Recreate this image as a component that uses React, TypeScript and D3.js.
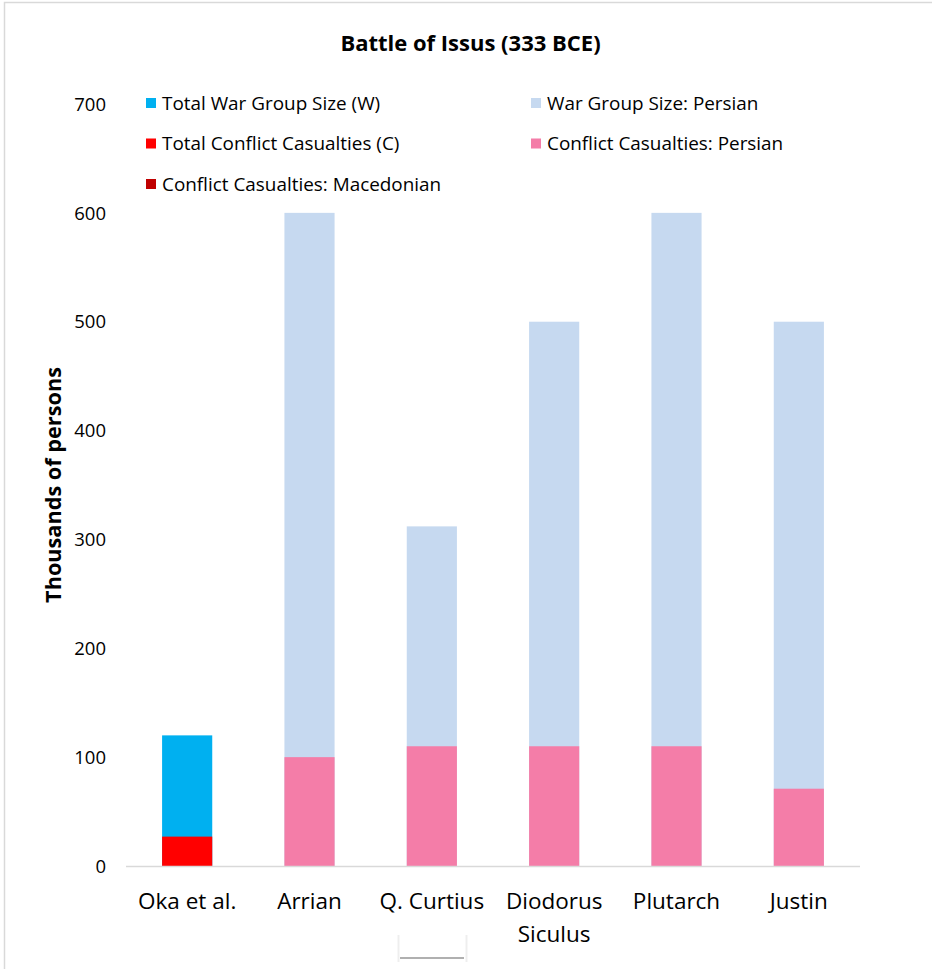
import React from "react";
import * as d3 from "d3";

const categories = ["Oka et al.", "Arrian", "Q. Curtius", "Diodorus Siculus", "Plutarch", "Justin"];
const totalWarGroup: (number | null)[] = [120, null, null, null, null, null];
const totalCasualties: (number | null)[] = [27, null, null, null, null, null];
const macedonianCasualties: (number | null)[] = [null, null, null, null, null, null];
const persianWarGroup: (number | null)[] = [null, 600, 312, 500, 600, 500];
const persianCasualties: (number | null)[] = [null, 100, 110, 110, 110, 71];
const yTicks = [0, 100, 200, 300, 400, 500, 600, 700];

const series = [
  { name: "Total War Group Size (W)", values: totalWarGroup, color: "#00B0F0" },
  { name: "War Group Size: Persian", values: persianWarGroup, color: "#C6D9F0" },
  { name: "Total Conflict Casualties (C)", values: totalCasualties, color: "#FF0000" },
  { name: "Conflict Casualties: Persian", values: persianCasualties, color: "#F47DA8" },
  { name: "Conflict Casualties: Macedonian", values: macedonianCasualties, color: "#C00000" },
];

const legendOrder = [
  { s: 0, col: 0, row: 0 },
  { s: 1, col: 1, row: 0 },
  { s: 2, col: 0, row: 1 },
  { s: 3, col: 1, row: 1 },
  { s: 4, col: 0, row: 2 },
];

export default function App() {
  const W = 932, H = 969;
  const left = 126, right = 860, top = 104, bottom = 866;
  const x = d3.scaleBand<string>().domain(categories).range([left, right]).paddingInner(0.59).paddingOuter(0.295);
  const y = d3.scaleLinear().domain([0, 700]).range([bottom, top]);
  const font = "'Open Sans', 'Noto Sans', sans-serif";

  return (
    <svg width={W} height={H} style={{ position: "absolute", left: 0, top: 0, background: "#fff" }}>
      <rect x={0} y={0} width={W} height={H} fill="#fff" />
      <path d="M4.5,969 L4.5,2.5 L932,2.5" fill="none" stroke="#D9D9D9" strokeWidth={1.5} />
      <text x={470.5} y={51} textAnchor="middle" fontFamily={font} fontWeight="bold" fontSize={22} fill="#000">
        Battle of Issus (333 BCE)
      </text>
      {yTicks.map((t) => (
        <text key={t} x={106} y={y(t)} dy="0.36em" textAnchor="end" fontFamily={font} fontSize={18.5} fill="#000">
          {t}
        </text>
      ))}
      <text
        transform={`translate(61,485) rotate(-90)`}
        textAnchor="middle"
        fontFamily={font}
        fontWeight="bold"
        fontSize={21.7}
        fill="#000"
      >
        Thousands of persons
      </text>
      {series.map((s, si) => (
        <g key={si}>
          {s.values.map((v, i) =>
            v == null ? null : (
              <rect
                key={i}
                x={x(categories[i])!}
                y={y(v)}
                width={x.bandwidth()}
                height={y(0) - y(v)}
                fill={s.color}
              />
            )
          )}
        </g>
      ))}
      <line x1={left} x2={right} y1={bottom + 0.5} y2={bottom + 0.5} stroke="#D9D9D9" strokeWidth={1.5} />
      {categories.map((c) => {
        const words = c === "Diodorus Siculus" ? ["Diodorus", "Siculus"] : [c];
        return (
          <text key={c} x={x(c)! + x.bandwidth() / 2} y={909} textAnchor="middle" fontFamily={font} fontSize={22.5} fill="#000">
            {words.map((w, k) => (
              <tspan key={k} x={x(c)! + x.bandwidth() / 2} dy={k === 0 ? 0 : 33}>
                {w}
              </tspan>
            ))}
          </text>
        );
      })}
      {legendOrder.map((l) => {
        const s = series[l.s];
        const lx = l.col === 0 ? 146 : 531;
        const ly = 103 + l.row * 40.5;
        return (
          <g key={l.s}>
            <rect x={lx} y={ly - 5} width={10} height={10} fill={s.color} />
            <text x={lx + 16} y={ly} dy="0.35em" fontFamily={font} fontSize={18.9} fill="#000">
              {s.name}
            </text>
          </g>
        );
      })}
      <path d="M398.5,935 L398.5,962" stroke="#EEEEEE" strokeWidth={2} />
      <path d="M466.5,935 L466.5,962" stroke="#EEEEEE" strokeWidth={2} />
      <path d="M400,958 L464,958" stroke="#B0B0B0" strokeWidth={2} />
    </svg>
  );
}
